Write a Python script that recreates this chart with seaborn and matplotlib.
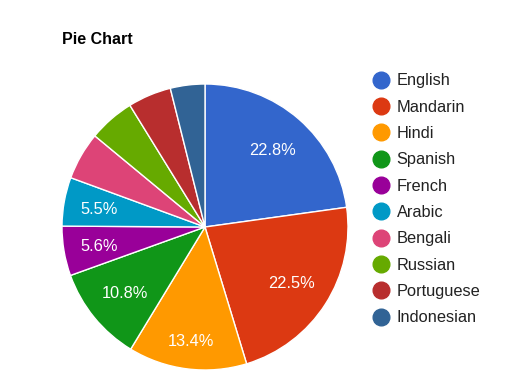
import matplotlib
matplotlib.use("Agg")
import matplotlib.pyplot as plt
import seaborn as sns
import numpy as np
from matplotlib.lines import Line2D

sns.set_theme(style="white")
plt.rcParams['font.family'] = ['Liberation Sans', 'DejaVu Sans']

languages = ["English", "Mandarin", "Hindi", "Spanish", "French", "Arabic",
             "Bengali", "Russian", "Portuguese", "Indonesian"]
shares = [22.8, 22.5, 13.4, 10.8, 5.6, 5.5, 5.4, 5.2, 4.9, 3.9]
colors = ["#3366cc", "#dc3912", "#ff9900", "#109618", "#990099", "#0099c6",
          "#dd4477", "#66aa00", "#b82e2e", "#316395"]
title = "Pie Chart"

W, H = 521, 376
fig = plt.figure(figsize=(W / 100, H / 100), dpi=100)
fig.patch.set_facecolor("white")

cx, cy, r = 205, 227, 143
ax = fig.add_axes([(cx - r) / W, (H - cy - r) / H, 2 * r / W, 2 * r / H])

total = sum(shares)
wedges, texts, autotexts = ax.pie(
    shares, colors=colors, startangle=90, counterclock=False,
    wedgeprops=dict(edgecolor="white", linewidth=1.0),
    autopct=lambda p: f"{p:.1f}%" if p >= 5.45 else "",
    pctdistance=0.75, textprops=dict(color="white", fontsize=11.8))
ax.set_aspect("equal")
ax.set_xlim(-1, 1)
ax.set_ylim(-1, 1)

for w, t, v in zip(wedges, autotexts, shares):
    frac = v / total
    if frac > 0.2:
        d = 0.72
    elif frac > 0.12:
        d = 0.795
    elif frac > 0.08:
        d = 0.72
    else:
        d = 0.75
    ang = np.deg2rad((w.theta1 + w.theta2) / 2)
    t.set_position((d * np.cos(ang), d * np.sin(ang) - 0.01))
    t.set_ha("center")
    t.set_va("center")

handles = [Line2D([0], [0], marker="o", linestyle="", markersize=12,
                  markerfacecolor=c, markeredgecolor=c) for c in colors]
fig.legend(handles, languages, loc="upper left",
           bbox_to_anchor=(372.8 / W, 1 - 73.5 / H), frameon=False,
           fontsize=11.8, labelcolor="#222222", handlelength=1.0,
           handletextpad=0.46, labelspacing=0.69, borderpad=0,
           borderaxespad=0)

fig.text(62 / W, 1 - 44.5 / H, title, fontsize=11.5, fontweight="bold",
         color="#000000", ha="left", va="baseline")

fig.savefig("out.png", dpi=100)
